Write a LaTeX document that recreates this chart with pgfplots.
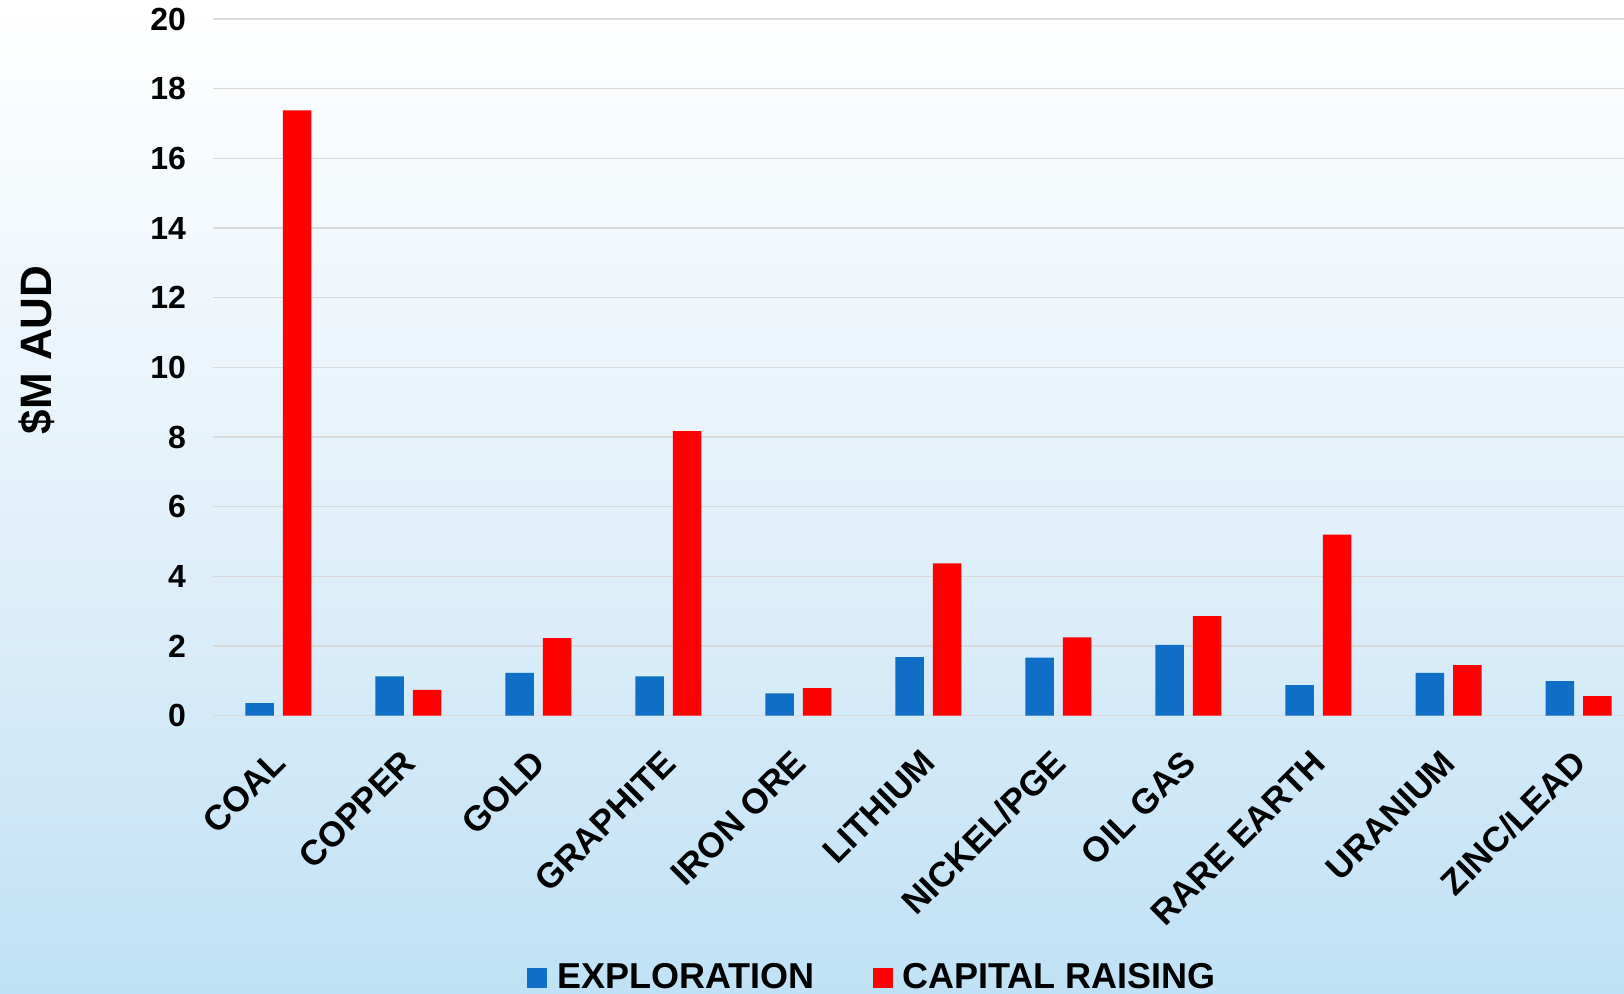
\documentclass[border=0pt]{standalone}
\usepackage{fontspec}
\setmainfont{Liberation Sans}
\usepackage{pgfplots}
\pgfplotsset{compat=1.18}
\definecolor{expblue}{RGB}{15,111,198}
\definecolor{capred}{RGB}{255,0,0}
\definecolor{gridgrey}{RGB}{217,217,217}
\definecolor{bgblue}{RGB}{192,225,245}
\begin{document}
\begin{tikzpicture}
\shade[top color=white, bottom color=bgblue, middle color={rgb,255:red,228;green,241;blue,250}] (0,0) rectangle (812bp,497bp);
\useasboundingbox (0,0) rectangle (812bp,497bp);
\begin{axis}[
  at={(106.7bp,139.15bp)}, anchor=south west,
  scale only axis, width=705.3bp, height=348.35bp,
  xmin=-0.5, xmax=10.35, ymin=0, ymax=20,
  ybar=4.5bp, bar width=14.25bp,
  ytick={0,2,...,20},
  ymajorgrids, grid style={gridgrey, line width=0.75bp},
  axis line style={draw=none}, major tick length=0pt,
  xtick={0,...,10},
  xticklabels={COAL,COPPER,GOLD,GRAPHITE,IRON ORE,LITHIUM,NICKEL/PGE,OIL GAS,RARE EARTH,URANIUM,ZINC/LEAD},
  xticklabel style={xshift=0.5bp, yshift=-20.5bp, rotate=45, anchor=east, inner sep=0pt,
    font=\bfseries\fontsize{17.5bp}{20bp}\selectfont},
  yticklabel style={inner sep=0pt, xshift=-13.5bp, font=\bfseries\fontsize{16bp}{19bp}\selectfont},
  /pgf/number format/assume math mode=true,
  ylabel={\$M AUD},
  ylabel style={at={(axis description cs:-0.125,0.525)}, anchor=center,
    font=\bfseries\fontsize{22bp}{26bp}\selectfont},
  legend style={at={(0.468,-0.376)}, anchor=center, draw=none, fill=none,
    legend columns=2, font=\bfseries\fontsize{18bp}{21bp}\selectfont,
    /tikz/every even column/.append style={column sep=27bp}},
  legend image code/.code={\fill[#1] (-3bp,-5bp) rectangle (7bp,5bp); \path (10bp,0bp);},
]
\addplot[fill=expblue, draw=none] coordinates {
  (0,0.36) (1,1.13) (2,1.23) (3,1.13) (4,0.64) (5,1.68)
  (6,1.67) (7,2.03) (8,0.88) (9,1.23) (10,0.99)};
\addlegendentry{EXPLORATION}
\addplot[fill=capred, draw=none] coordinates {
  (0,17.38) (1,0.74) (2,2.23) (3,8.17) (4,0.79) (5,4.37)
  (6,2.25) (7,2.86) (8,5.20) (9,1.45) (10,0.56)};
\addlegendentry{CAPITAL RAISING}
\end{axis}
\end{tikzpicture}
\end{document}
